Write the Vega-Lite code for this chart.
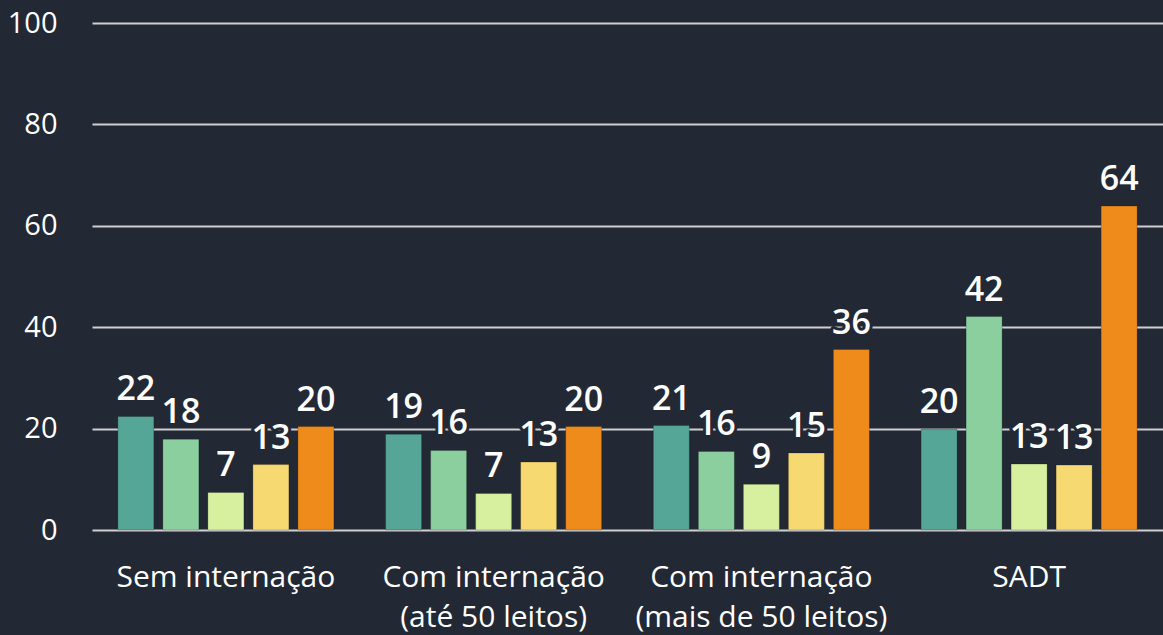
{
  "$schema": "https://vega.github.io/schema/vega-lite/v6.json",
  "width": 1071,
  "height": 507,
  "autosize": {"type": "none"},
  "padding": {"left": 92, "top": 23, "right": 0, "bottom": 105},
  "background": "#222935",
  "config": {"view": {"stroke": null}, "font": "Open Sans"},
  "data": {
    "values": [
      {"grupo": "Sem internação", "serie": "A", "valor": 22.4},
      {"grupo": "Sem internação", "serie": "B", "valor": 17.9},
      {"grupo": "Sem internação", "serie": "C", "valor": 7.4},
      {"grupo": "Sem internação", "serie": "D", "valor": 12.9},
      {"grupo": "Sem internação", "serie": "E", "valor": 20.4},
      {"grupo": "Com internação|(até 50 leitos)", "serie": "A", "valor": 18.9},
      {"grupo": "Com internação|(até 50 leitos)", "serie": "B", "valor": 15.7},
      {"grupo": "Com internação|(até 50 leitos)", "serie": "C", "valor": 7.2},
      {"grupo": "Com internação|(até 50 leitos)", "serie": "D", "valor": 13.4},
      {"grupo": "Com internação|(até 50 leitos)", "serie": "E", "valor": 20.4},
      {"grupo": "Com internação|(mais de 50 leitos)", "serie": "A", "valor": 20.6},
      {"grupo": "Com internação|(mais de 50 leitos)", "serie": "B", "valor": 15.5},
      {"grupo": "Com internação|(mais de 50 leitos)", "serie": "C", "valor": 9.0},
      {"grupo": "Com internação|(mais de 50 leitos)", "serie": "D", "valor": 15.2},
      {"grupo": "Com internação|(mais de 50 leitos)", "serie": "E", "valor": 35.6},
      {"grupo": "SADT", "serie": "A", "valor": 19.9},
      {"grupo": "SADT", "serie": "B", "valor": 42.1},
      {"grupo": "SADT", "serie": "C", "valor": 13.0},
      {"grupo": "SADT", "serie": "D", "valor": 12.8},
      {"grupo": "SADT", "serie": "E", "valor": 63.9}
    ]
  },
  "encoding": {
    "x": {
      "field": "grupo",
      "type": "nominal",
      "sort": ["Sem internação", "Com internação|(até 50 leitos)", "Com internação|(mais de 50 leitos)", "SADT"],
      "scale": {"paddingInner": 0.193, "paddingOuter": 0.0966},
      "axis": {
        "title": null,
        "domain": false,
        "ticks": false,
        "grid": false,
        "labelAngle": 0,
        "labelFontSize": 30,
        "labelColor": "#ffffff",
        "labelPadding": 32,
        "labelLimit": 0,
        "labelLineHeight": 40,
        "labelExpr": "split(datum.label, '|')"
      }
    },
    "xOffset": {
      "field": "serie",
      "type": "nominal",
      "sort": ["A", "B", "C", "D", "E"],
      "scale": {"paddingInner": 0.2, "paddingOuter": 0}
    },
    "y": {
      "field": "valor",
      "type": "quantitative",
      "scale": {"domain": [0, 100], "nice": false},
      "axis": {
        "title": null,
        "values": [0, 20, 40, 60, 80, 100],
        "grid": true,
        "gridColor": "#cfcfcf",
        "gridWidth": 2,
        "domain": false,
        "ticks": false,
        "labelFontSize": 29,
        "labelColor": "#ffffff",
        "labelPadding": 35
      }
    }
  },
  "layer": [
    {
      "mark": {"type": "bar", "stroke": "#000000", "strokeOpacity": 0.2, "strokeWidth": 1},
      "encoding": {
        "color": {
          "field": "serie",
          "type": "nominal",
          "scale": {"domain": ["A", "B", "C", "D", "E"], "range": ["#55a696", "#8ccf9e", "#d6f09f", "#f6d970", "#ee8b1b"]},
          "legend": null
        }
      }
    },
    {
      "mark": {"type": "text", "baseline": "alphabetic", "dy": -16, "fontSize": 34, "fontWeight": 600, "fill": "#222935", "stroke": "#222935", "strokeWidth": 6, "strokeJoin": "round"},
      "encoding": {"text": {"field": "valor", "type": "quantitative", "format": ".0f"}}
    },
    {
      "mark": {"type": "text", "baseline": "alphabetic", "dy": -16, "fontSize": 34, "fontWeight": 600, "fill": "#ffffff"},
      "encoding": {"text": {"field": "valor", "type": "quantitative", "format": ".0f"}}
    }
  ]
}
